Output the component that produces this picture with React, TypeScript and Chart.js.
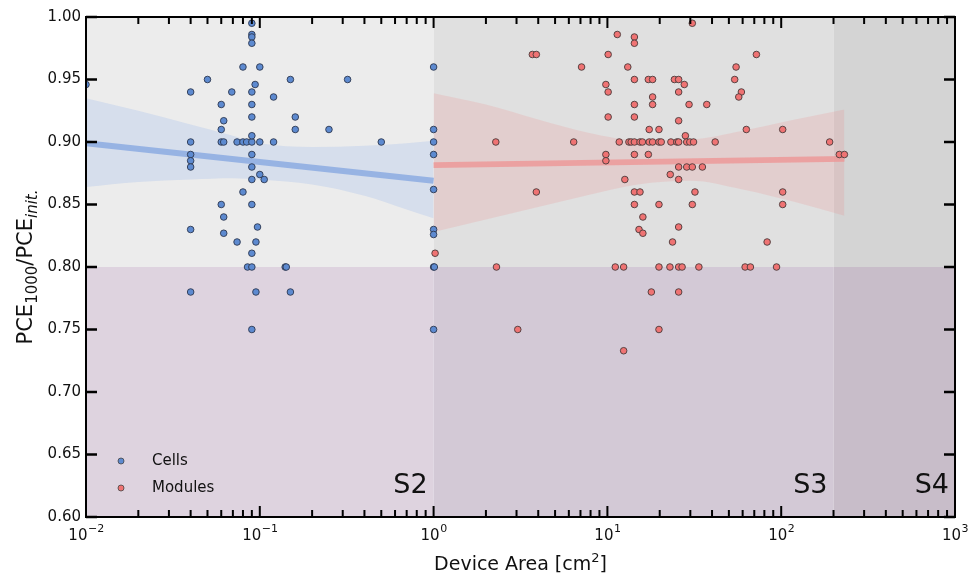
import React, { useEffect, useRef } from "react";
import { Chart, registerables } from "chart.js";

Chart.register(...registerables);

// ---------- data ----------
const cellsX = [
  0.01, 0.09, 0.09, 0.09, 0.09, 0.08, 0.1, 0.05, 0.15, 0.32, 0.094, 0.04, 0.069, 0.09, 0.12,
  0.06, 0.09, 0.09, 0.16, 0.062, 0.06, 0.16, 0.25, 1.0, 1.0, 0.04, 0.06, 0.062, 0.074, 0.08,
  0.084, 0.09, 0.09, 0.1, 0.12, 0.5, 1.0, 0.04, 0.04, 0.04, 0.09, 0.09, 1.0, 0.1, 0.106,
  0.09, 0.08, 1.0, 0.06, 0.09, 0.062, 0.04, 0.062, 0.097, 0.074, 0.095, 0.09, 0.085, 0.09, 0.14,
  0.142, 1.0, 1.0, 1.0, 1.01, 0.04, 0.095, 0.15, 0.09, 1.0,
];
const cellsY = [
  0.946, 0.995, 0.986, 0.984, 0.979, 0.96, 0.96, 0.95, 0.95, 0.95, 0.946, 0.94, 0.94, 0.94, 0.936,
  0.93, 0.93, 0.92, 0.92, 0.917, 0.91, 0.91, 0.91, 0.91, 0.96, 0.9, 0.9, 0.9, 0.9, 0.9,
  0.9, 0.9, 0.905, 0.9, 0.9, 0.9, 0.9, 0.89, 0.885, 0.88, 0.89, 0.88, 0.89, 0.874, 0.87,
  0.87, 0.86, 0.862, 0.85, 0.85, 0.84, 0.83, 0.827, 0.832, 0.82, 0.82, 0.811, 0.8, 0.8, 0.8,
  0.8, 0.83, 0.826, 0.8, 0.8, 0.78, 0.78, 0.78, 0.75, 0.75,
];

const modulesX = [
  11.4, 14.3, 14.3, 3.7, 3.9, 10.1, 7.1, 13.1, 30.8, 72, 55, 14.3, 17.2, 18.2, 24.3,
  25.7, 27.7, 54, 9.8, 10.1, 25.7, 59, 18.2, 57, 14.3, 18.2, 29.5, 37.3, 10.1, 14.3,
  25.7, 17.4, 19.8, 63, 102, 28.1, 2.28, 6.4, 11.7, 13.3, 13.7, 14.3, 15.4, 15.9, 17.4,
  18.2, 19.8, 20.4, 23.2, 25.1, 25.7, 28.6, 29.8, 31.3, 41.7, 190, 9.8, 9.8, 14.3, 17.2,
  216, 231, 25.7, 28.6, 30.8, 35.2, 23.0, 12.6, 25.7, 3.9, 14.3, 15.4, 31.9, 102, 14.3,
  19.8, 30.8, 102, 16.0, 15.2, 16.0, 25.7, 23.7, 83, 1.02, 2.3, 11.1, 12.4, 19.8, 22.9,
  25.7, 26.9, 33.6, 62, 66.5, 94, 17.9, 25.7, 3.05, 19.8, 12.4,
];
const modulesY = [
  0.986, 0.984, 0.979, 0.97, 0.97, 0.97, 0.96, 0.96, 0.995, 0.97, 0.96, 0.95, 0.95, 0.95, 0.95,
  0.95, 0.946, 0.95, 0.946, 0.94, 0.94, 0.94, 0.936, 0.936, 0.93, 0.93, 0.93, 0.93, 0.92, 0.92,
  0.917, 0.91, 0.91, 0.91, 0.91, 0.905, 0.9, 0.9, 0.9, 0.9, 0.9, 0.9, 0.9, 0.9, 0.9,
  0.9, 0.9, 0.9, 0.9, 0.9, 0.9, 0.9, 0.9, 0.9, 0.9, 0.9, 0.89, 0.885, 0.89, 0.89,
  0.89, 0.89, 0.88, 0.88, 0.88, 0.88, 0.874, 0.87, 0.87, 0.86, 0.86, 0.86, 0.86, 0.86, 0.85,
  0.85, 0.85, 0.85, 0.84, 0.83, 0.827, 0.832, 0.82, 0.82, 0.811, 0.8, 0.8, 0.8, 0.8, 0.8,
  0.8, 0.8, 0.8, 0.8, 0.8, 0.8, 0.78, 0.78, 0.75, 0.75, 0.733,
];

// regression fits and confidence bands
const cellsFitX = [0.01, 1];
const cellsFitY = [0.899, 0.869];
const cellsBandX = [0.01, 0.02, 0.04, 0.07, 0.1, 0.2, 0.4, 0.7, 1];
const cellsBandUpper = [0.935, 0.925, 0.914, 0.905, 0.899, 0.896, 0.897, 0.899, 0.901];
const cellsBandLower = [0.864, 0.868, 0.87, 0.871, 0.87, 0.866, 0.857, 0.846, 0.839];

const modulesFitX = [1, 231];
const modulesFitY = [0.8815, 0.8865];
const modulesBandX = [1, 2, 4, 8, 15, 30, 60, 120, 231];
const modulesBandUpper = [0.939, 0.93, 0.918, 0.907, 0.9015, 0.902, 0.909, 0.918, 0.926];
const modulesBandLower = [0.828, 0.838, 0.848, 0.858, 0.866, 0.869, 0.862, 0.852, 0.841];

// axes
const xMin = 0.01;
const xMax = 1000;
const yMin = 0.6;
const yMax = 1.0;
const xDecades = [0.01, 0.1, 1, 10, 100, 1000];
const xExponents = ["\u22122", "\u22121", "0", "1", "2", "3"];
const yTicks = [0.6, 0.65, 0.7, 0.75, 0.8, 0.85, 0.9, 0.95, 1.0];

// stage regions
const stageEdges = [0.01, 1, 200, 1000];
const stageLabels = ["S2", "S3", "S4"];
const thresholdY = 0.8;

const seriesNames = ["Cells", "Modules"];

const FONT = "'DejaVu Sans', sans-serif";

const pts = (xs: number[], ys: number[]) => xs.map((x, i) => ({ x, y: ys[i] }));

export default function App() {
  const ref = useRef<HTMLCanvasElement | null>(null);

  useEffect(() => {
    document.body.style.margin = "0";
    const canvas = ref.current;
    if (!canvas) return;

    const topColors = ["#ececec", "#e0e0e0", "#d4d4d4"];
    const bottomColors = ["#ded3df", "#d3c9d6", "#c8bdc9"];
    const blueFill = "#5d8ad0";
    const redFill = "#ef7373";

    const backgroundPlugin = {
      id: "stages",
      beforeDatasetsDraw(chart: any) {
        const { ctx, scales } = chart;
        const xs = scales.x;
        const ys = scales.y;
        ctx.save();
        for (let i = 0; i < stageEdges.length - 1; i++) {
          const x0 = xs.getPixelForValue(stageEdges[i]);
          const x1 = xs.getPixelForValue(stageEdges[i + 1]);
          const yTop = ys.getPixelForValue(yMax);
          const yMid = ys.getPixelForValue(thresholdY);
          const yBot = ys.getPixelForValue(yMin);
          ctx.fillStyle = topColors[i];
          ctx.fillRect(x0, yTop, x1 - x0, yMid - yTop);
          ctx.fillStyle = bottomColors[i];
          ctx.fillRect(x0, yMid, x1 - x0, yBot - yMid);
        }
        ctx.restore();
      },
    };

    const decorPlugin = {
      id: "decor",
      afterDatasetsDraw(chart: any) {
        const { ctx, scales, chartArea } = chart;
        const xs = scales.x;
        const ys = scales.y;
        const { left, right, top, bottom } = chartArea;
        ctx.save();

        // stage labels
        ctx.fillStyle = "#111";
        ctx.font = `27px ${FONT}`;
        ctx.textAlign = "right";
        ctx.textBaseline = "alphabetic";
        for (let i = 0; i < stageLabels.length; i++) {
          const xr = xs.getPixelForValue(stageEdges[i + 1]);
          ctx.fillText(stageLabels[i], xr - 6, 493);
        }

        // legend
        const legendColors = [blueFill, redFill];
        ctx.font = `15px ${FONT}`;
        ctx.textAlign = "left";
        ctx.textBaseline = "middle";
        for (let i = 0; i < seriesNames.length; i++) {
          const yy = 461 + i * 27;
          ctx.beginPath();
          ctx.arc(121, yy, 3, 0, Math.PI * 2);
          ctx.fillStyle = legendColors[i];
          ctx.fill();
          ctx.lineWidth = 0.8;
          ctx.strokeStyle = "#444";
          ctx.stroke();
          ctx.fillStyle = "#111";
          ctx.fillText(seriesNames[i], 152, yy);
        }

        // frame
        ctx.strokeStyle = "#000";
        ctx.lineWidth = 2;
        ctx.strokeRect(left, top, right - left, bottom - top);

        // x ticks (inward, top and bottom)
        ctx.lineWidth = 2;
        for (let d = 0; d < xDecades.length; d++) {
          const dec = xDecades[d];
          const px = xs.getPixelForValue(dec);
          ctx.beginPath();
          ctx.moveTo(px, bottom);
          ctx.lineTo(px, bottom - 11);
          ctx.moveTo(px, top);
          ctx.lineTo(px, top + 11);
          ctx.stroke();
          if (d < xDecades.length - 1) {
            for (let m = 2; m <= 9; m++) {
              const mx = xs.getPixelForValue(dec * m);
              ctx.beginPath();
              ctx.moveTo(mx, bottom);
              ctx.lineTo(mx, bottom - 7);
              ctx.moveTo(mx, top);
              ctx.lineTo(mx, top + 7);
              ctx.stroke();
            }
          }
        }
        // y ticks (inward, left and right)
        ctx.lineWidth = 2.5;
        for (const v of yTicks) {
          const py = ys.getPixelForValue(v);
          ctx.beginPath();
          ctx.moveTo(left, py);
          ctx.lineTo(left + 11, py);
          ctx.moveTo(right, py);
          ctx.lineTo(right - 11, py);
          ctx.stroke();
        }

        // y tick labels
        ctx.fillStyle = "#111";
        ctx.font = `15px ${FONT}`;
        ctx.textAlign = "right";
        ctx.textBaseline = "middle";
        for (const v of yTicks) {
          ctx.fillText(v.toFixed(2), left - 5, ys.getPixelForValue(v));
        }

        // x tick labels: 10^n
        ctx.textBaseline = "alphabetic";
        for (let d = 0; d < xDecades.length; d++) {
          const px = xs.getPixelForValue(xDecades[d]);
          ctx.font = `15px ${FONT}`;
          const wBase = ctx.measureText("10").width;
          ctx.font = `11px ${FONT}`;
          const wExp = ctx.measureText(xExponents[d]).width;
          const x0 = px - (wBase + wExp) / 2;
          ctx.textAlign = "left";
          ctx.font = `15px ${FONT}`;
          ctx.fillText("10", x0, 540);
          ctx.font = `11px ${FONT}`;
          ctx.fillText(xExponents[d], x0 + wBase + 0.5, 532);
        }

        // x title
        {
          const parts = [
            { t: "Device Area [cm", f: `19px ${FONT}`, dy: 0 },
            { t: "2", f: `13px ${FONT}`, dy: -8 },
            { t: "]", f: `19px ${FONT}`, dy: 0 },
          ];
          let total = 0;
          for (const p of parts) {
            ctx.font = p.f;
            total += ctx.measureText(p.t).width;
          }
          let cx = (left + right) / 2 - total / 2;
          ctx.textAlign = "left";
          for (const p of parts) {
            ctx.font = p.f;
            ctx.fillText(p.t, cx, 570 + p.dy);
            cx += ctx.measureText(p.t).width;
          }
        }

        // y title
        {
          const parts = [
            { t: "PCE", f: `21px ${FONT}`, dy: 0 },
            { t: "1000", f: `15px ${FONT}`, dy: 5 },
            { t: "/PCE", f: `21px ${FONT}`, dy: 0 },
            { t: "init.", f: `italic 15px ${FONT}`, dy: 5 },
          ];
          let total = 0;
          for (const p of parts) {
            ctx.font = p.f;
            total += ctx.measureText(p.t).width;
          }
          ctx.translate(32, (top + bottom) / 2);
          ctx.rotate(-Math.PI / 2);
          let cx = -total / 2;
          ctx.textAlign = "left";
          for (const p of parts) {
            ctx.font = p.f;
            ctx.fillText(p.t, cx, p.dy);
            cx += ctx.measureText(p.t).width;
          }
        }
        ctx.restore();
      },
    };

    const chart = new Chart(canvas, {
      type: "scatter",
      data: {
        datasets: [
          {
            label: "Modules",
            data: pts(modulesX, modulesY),
            backgroundColor: redFill,
            borderColor: "#4a3a3a",
            borderWidth: 0.9,
            pointRadius: 3.3,
            order: 0,
          },
          {
            label: "Cells",
            data: pts(cellsX, cellsY),
            backgroundColor: blueFill,
            borderColor: "#2c3850",
            borderWidth: 0.9,
            pointRadius: 3.3,
            order: 1,
          },
          {
            label: "cellsFit",
            type: "line",
            data: pts(cellsFitX, cellsFitY),
            borderColor: "rgba(135,168,225,0.8)",
            borderWidth: 6,
            pointRadius: 0,
            fill: false,
            order: 2,
          } as any,
          {
            label: "modulesFit",
            type: "line",
            data: pts(modulesFitX, modulesFitY),
            borderColor: "rgba(238,150,150,0.8)",
            borderWidth: 6,
            pointRadius: 0,
            fill: false,
            order: 3,
          } as any,
          {
            label: "cellsUpper",
            type: "line",
            data: pts(cellsBandX, cellsBandUpper),
            borderWidth: 0,
            borderColor: "rgba(0,0,0,0)",
            pointRadius: 0,
            fill: false,
            tension: 0.4,
            cubicInterpolationMode: "monotone",
            order: 4,
          } as any,
          {
            label: "cellsLower",
            type: "line",
            data: pts(cellsBandX, cellsBandLower),
            borderWidth: 0,
            borderColor: "rgba(0,0,0,0)",
            backgroundColor: "rgba(100,150,235,0.16)",
            pointRadius: 0,
            fill: 4,
            tension: 0.4,
            cubicInterpolationMode: "monotone",
            order: 5,
          } as any,
          {
            label: "modulesUpper",
            type: "line",
            data: pts(modulesBandX, modulesBandUpper),
            borderWidth: 0,
            borderColor: "rgba(0,0,0,0)",
            pointRadius: 0,
            fill: false,
            tension: 0.4,
            cubicInterpolationMode: "monotone",
            order: 6,
          } as any,
          {
            label: "modulesLower",
            type: "line",
            data: pts(modulesBandX, modulesBandLower),
            borderWidth: 0,
            borderColor: "rgba(0,0,0,0)",
            backgroundColor: "rgba(240,110,110,0.15)",
            pointRadius: 0,
            fill: 6,
            tension: 0.4,
            cubicInterpolationMode: "monotone",
            order: 7,
          } as any,
        ],
      },
      options: {
        animation: false,
        responsive: false,
        maintainAspectRatio: false,
        devicePixelRatio: 1,
        layout: { padding: { left: 86, right: 13, top: 17, bottom: 58 } },
        plugins: {
          legend: { display: false },
          tooltip: { enabled: false },
        },
        scales: {
          x: { type: "logarithmic", min: xMin, max: xMax, display: false },
          y: { type: "linear", min: yMin, max: yMax, display: false },
        },
      },
      plugins: [backgroundPlugin, decorPlugin],
    } as any);

    return () => chart.destroy();
  }, []);

  return (
    <div style={{ position: "fixed", left: 0, top: 0, width: 968, height: 575, background: "#fff" }}>
      <canvas ref={ref} width={968} height={575} />
    </div>
  );
}
